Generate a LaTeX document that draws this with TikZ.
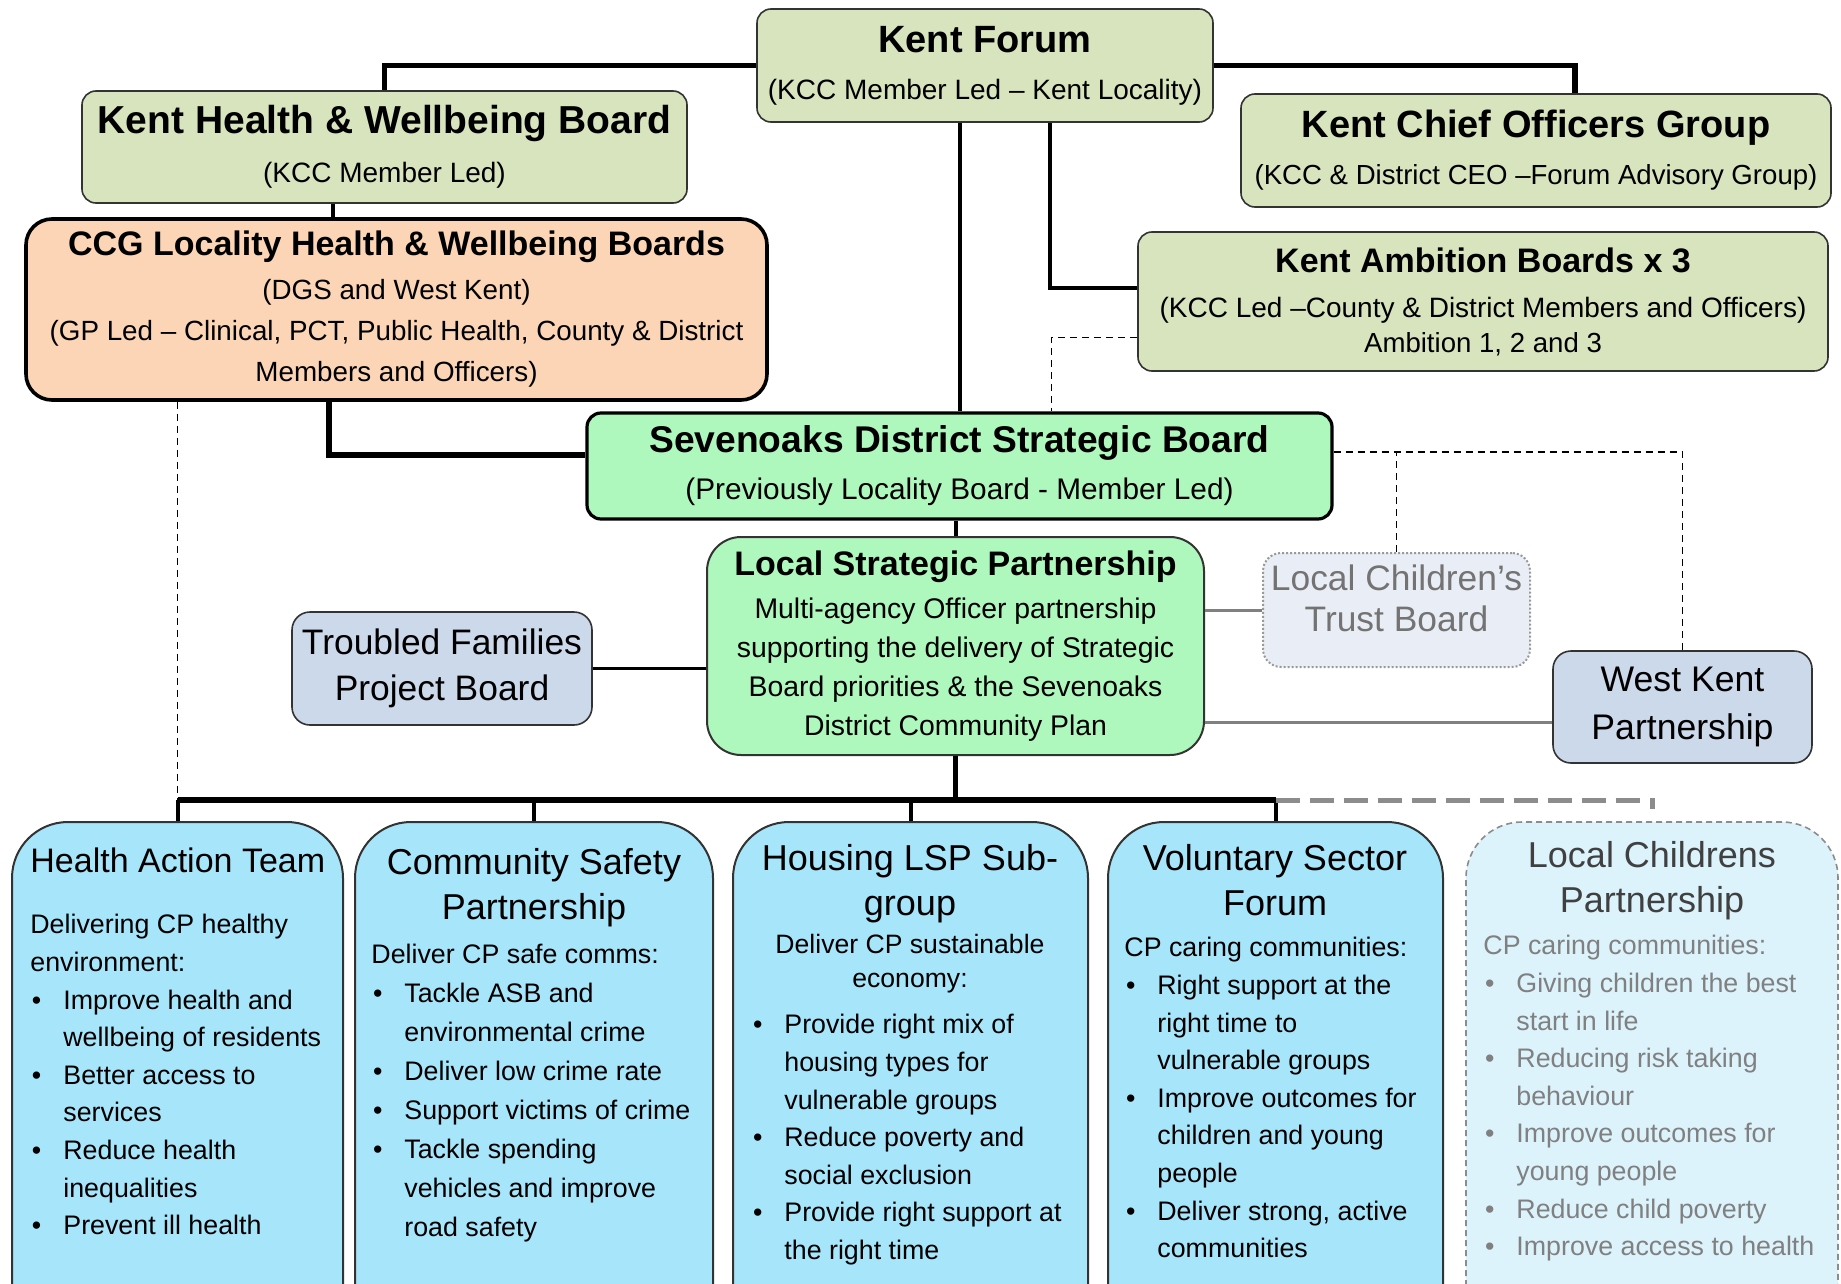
\documentclass[tikz,border=0pt]{standalone}
\usepackage{fontspec}
\setmainfont{Liberation Sans}
\definecolor{olive}{HTML}{D7E4BD}
\definecolor{peach}{HTML}{FBD5B5}
\definecolor{mint}{HTML}{AFF8BD}
\definecolor{steel}{HTML}{CCD9EB}
\definecolor{sky}{HTML}{A6E5FA}
\definecolor{paleSky}{HTML}{DCF3FC}
\definecolor{paleSteel}{HTML}{E9EEF6}
\newcommand{\boxtitle}[2]{{\fontsize{#1}{#1}\selectfont\bfseries #2}}
\newcommand{\bul}{\makebox[16.5pt][l]{\hspace{0.8pt}\textbullet}}
\newcommand{\ind}{\makebox[16.5pt]{}}

\begin{document}
\begin{tikzpicture}[x=0.5pt,y=-0.5pt,
    box/.style={draw=black!80,line width=0.8pt,rounded corners=7pt,align=center,inner sep=0pt},
    heavy/.style={line width=2.8pt},
    link/.style={line width=2pt},
    thin link/.style={line width=1.5pt},
    greylink/.style={line width=1.5pt,draw=black!50},
    dashlink/.style={line width=0.8pt,dash pattern=on 3.5pt off 2.5pt},
    lane/.style={draw=black!80,line width=1pt,rounded corners=28pt,fill=sky,minimum width=#1,minimum height=263pt,inner sep=0pt},
    lanehead/.style={align=center,inner sep=0pt,font=\fontsize{18}{22.5}\selectfont},
    lanetext/.style={align=left,inner sep=0pt,anchor=north west,font=\fontsize{13.4}{18.8}\selectfont}]
  \useasboundingbox (0,0) rectangle (1841,1284);

  % county level
  \node[box,fill=olive,minimum width=228pt,minimum height=56.5pt,font=\fontsize{14}{23.5}\selectfont] (kf) at (985,65.5)
    {\boxtitle{19}{Kent Forum}\\(KCC Member Led – Kent Locality)};
  \node[box,fill=olive,minimum width=302.5pt,minimum height=56pt,font=\fontsize{14}{24.5}\selectfont] (khwb) at (384.5,147)
    {\boxtitle{19.5}{Kent Health \& Wellbeing Board}\\(KCC Member Led)};
  \node[box,fill=peach,draw=black,line width=1.8pt,rounded corners=13pt,minimum width=370.5pt,minimum height=90.5pt,font=\fontsize{13.9}{20.5}\selectfont] (ccg) at (396.5,309.5)
    {\boxtitle{17}{CCG Locality Health \& Wellbeing Boards}\\[1.5pt](DGS and West Kent)\\(GP Led – Clinical, PCT, Public Health, County \& District\\Members and Officers)};
  \node[box,fill=olive,minimum width=295pt,minimum height=56.5pt,font=\fontsize{13.8}{23.5}\selectfont] (kcog) at (1536,150.5)
    {\boxtitle{19}{Kent Chief Officers Group}\\(KCC \& District CEO –Forum Advisory Group)};
  \node[box,fill=olive,minimum width=345pt,minimum height=69.5pt,font=\fontsize{14}{17.5}\selectfont] (kab) at (1483,301.5)
    {\boxtitle{17}{Kent Ambition Boards x 3}\\[5pt](KCC Led –County \& District Members and Officers)\\{\fontsize{13.8}{13.8}\selectfont Ambition 1, 2 and 3}};

  % district level
  \node[box,fill=mint,draw=black,line width=1.6pt,minimum width=372.5pt,minimum height=53pt,font=\fontsize{14.9}{23.5}\selectfont] (sdsb) at (959.5,466)
    {\boxtitle{18.6}{Sevenoaks District Strategic Board}\\(Previously Locality Board - Member Led)};
  \node[box,fill=mint,line width=1pt,rounded corners=17pt,minimum width=248.5pt,minimum height=109pt,font=\fontsize{14.2}{19.5}\selectfont] (lsp) at (955.5,646)
    {\boxtitle{17}{Local Strategic Partnership}\\[2pt]Multi-agency Officer partnership\\supporting the delivery of Strategic\\Board priorities \& the Sevenoaks\\District Community Plan};
  \node[box,fill=steel,rounded corners=9pt,minimum width=150pt,minimum height=56.5pt,font=\fontsize{17.7}{23}\selectfont] (tfpb) at (442,668.5)
    {Troubled Families\\Project Board};
  \node[box,fill=paleSteel,draw=black!40,line width=1pt,densely dotted,rounded corners=9pt,minimum width=133.5pt,minimum height=57pt] (lctb) at (1396.5,610) {};
  \node[align=center,text=black!55,font=\fontsize{17.7}{20.5}\selectfont] (lctbt) at ([yshift=6pt]lctb.center) {Local Children’s\\Trust Board};
  \node[box,fill=steel,rounded corners=9pt,minimum width=129.5pt,minimum height=56pt,font=\fontsize{17.8}{24}\selectfont] (wkp) at (1682.5,707)
    {West Kent\\Partnership};

  % delivery groups
  \begin{scope}
    \clip (0,0) rectangle (1841,1284);
    \node[lane=165.5pt] (hat) at (177.5,1085) {};
    \node[lane=179pt] (csp) at (534,1085) {};
    \node[lane=177.5pt] (hsg) at (910.5,1085) {};
    \node[lane=167.5pt] (vsf) at (1275.5,1085) {};
    \node[lane=186pt,fill=paleSky,draw=black!45,dash pattern=on 3pt off 2pt,line width=0.8pt] (lcp) at (1652,1085) {};
  \end{scope}

  \node[lanehead,font=\fontsize{17}{20}\selectfont,anchor=west] (hatt) at (30,860) {Health Action Team};
  \node[lanetext] (hatb) at (30,914) {Delivering CP healthy\\environment:\\\bul Improve health and\\\ind wellbeing of residents\\\bul Better access to\\\ind services\\\bul Reduce health\\\ind inequalities\\\bul Prevent ill health};

  \node[lanehead] (cspt) at (534,887.5) {Community Safety\\Partnership};
  \node[lanetext,font=\fontsize{13.4}{19.5}\selectfont] (cspb) at (371,944) {Deliver CP safe comms:\\\bul Tackle ASB and\\\ind environmental crime\\\bul Deliver low crime rate\\\bul Support victims of crime\\\bul Tackle spending\\\ind vehicles and improve\\\ind road safety};

  \node[lanehead] (hsgt) at (910,883.5) {Housing LSP Sub-\\group};
  \node[align=center,inner sep=0pt,font=\fontsize{13.3}{17}\selectfont] (hsgh) at (910,964) {Deliver CP sustainable\\economy:};
  \node[lanetext] (hsgb) at (751,1014) {\bul Provide right mix of\\\ind housing types for\\\ind vulnerable groups\\\bul Reduce poverty and\\\ind social exclusion\\\bul Provide right support at\\\ind the right time};

  \node[lanehead] (vsft) at (1275,880.5) {Voluntary Sector\\Forum};
  \node[lanetext] (vsfb) at (1124,937) {CP caring communities:\\\bul Right support at the\\\ind right time to\\\ind vulnerable groups\\\bul Improve outcomes for\\\ind children and young\\\ind people\\\bul Deliver strong, active\\\ind communities};

  \node[lanehead,text=black!75] (lcpt) at (1652,880.5) {Local Childrens\\Partnership};
  \node[lanetext,text=black!50] (lcpb) at (1483,935) {CP caring communities:\\\bul Giving children the best\\\ind start in life\\\bul Reducing risk taking\\\ind behaviour\\\bul Improve outcomes for\\\ind young people\\\bul Reduce child poverty\\\bul Improve access to health};

  % connectors
  \coordinate (khwbdrop) at ([xshift=-31.75pt]ccg.north);
  \coordinate (ccgdrop) at ([xshift=-33.75pt]ccg.south);
  \coordinate (sdsbdash) at ([yshift=7pt]sdsb.east);
  \coordinate (wkpin) at ([yshift=-7.5pt]wkp.west);
  \coordinate (bus) at (958,800);
  \draw[heavy] (kf.west) -| (khwb.north);
  \draw[heavy] (kf.east) -| ([xshift=19.5pt]kcog.north);
  \draw[link] (kf.south -| sdsb.north) -- (sdsb.north);
  \draw[link] ([xshift=32.5pt]kf.south) |- ([yshift=7pt]kab.west);
  \draw[link] (khwbdrop) -- (khwbdrop |- khwb.south);
  \draw[heavy] (ccgdrop) |- ([yshift=5.5pt]sdsb.west);
  \draw[dashlink] ([yshift=-18pt]kab.west) -| ([xshift=46pt]sdsb.north);
  \draw[dashlink] (sdsbdash) -| (wkp.north);
  \draw[dashlink] (lctb.north) -- (lctb.north |- sdsbdash);
  \draw[link] (lsp.north |- sdsb.south) -- (lsp.north);
  \draw[thin link] (tfpb.east) -- (tfpb.east -| lsp.west);
  \draw[greylink] (lctb.west) -- (lctb.west -| lsp.east);
  \draw[greylink] (wkpin) -- (wkpin -| lsp.east);
  \draw[heavy] (lsp.south) -- (lsp.south |- bus);
  \draw[heavy] (hat.north |- bus) -- (vsf.north |- bus);
  \foreach \n in {hat,csp,hsg,vsf}
    \draw[link] (\n.north |- bus) -- (\n.north);
  \draw[line width=2.5pt,draw=black!45,dash pattern=on 12pt off 5pt] (vsf.north |- bus) -| ([yshift=6pt]lcp.north);
  \draw[dashlink] (hat.north |- ccg.south) -- (hat.north |- bus);
\end{tikzpicture}
\end{document}
